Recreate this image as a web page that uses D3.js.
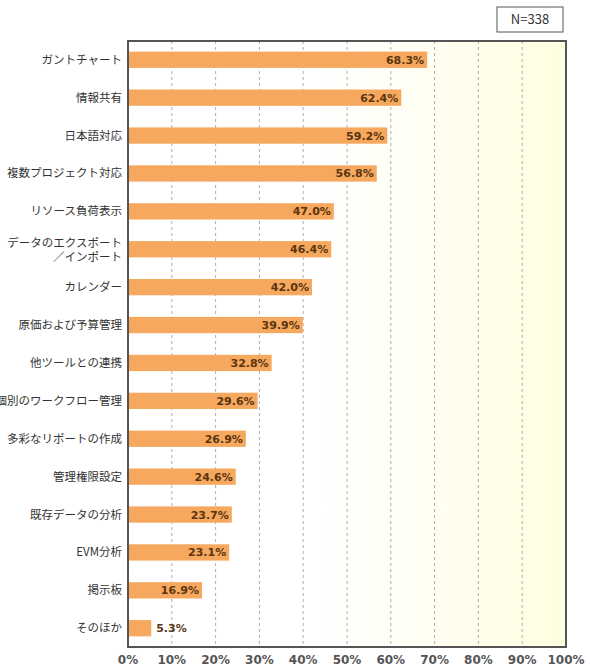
<!DOCTYPE html>
<html><head><meta charset="utf-8">
<script src="https://cdn.jsdelivr.net/npm/d3@7"></script>
<style>body{margin:0;background:#fff;font-family:"Noto Sans CJK JP",sans-serif;}</style>
</head><body><div id="chart"></div>
<script>
const categories = ["ガントチャート","情報共有","日本語対応","複数プロジェクト対応","リソース負荷表示",
  "データのエクスポート\n／インポート","カレンダー","原価および予算管理","他ツールとの連携","個別のワークフロー管理",
  "多彩なリポートの作成","管理権限設定","既存データの分析","EVM分析","掲示板","そのほか"];
const values = [68.3,62.4,59.2,56.8,47.0,46.4,42.0,39.9,32.8,29.6,26.9,24.6,23.7,23.1,16.9,5.3];
const ticks = [0,10,20,30,40,50,60,70,80,90,100];

const W = 590, H = 670;
const plotL = 128, plotR = 566, plotT = 41, plotB = 647;
const svg = d3.select("#chart").append("svg").attr("width", W).attr("height", H);

const grad = svg.append("defs").append("linearGradient").attr("id","bg");
grad.append("stop").attr("offset","0%").attr("stop-color","#ffffff");
grad.append("stop").attr("offset","45%").attr("stop-color","#ffffff");
grad.append("stop").attr("offset","100%").attr("stop-color","#fffde0");

const x = d3.scaleLinear().domain([0,100]).range([plotL,plotR]);
const y = d3.scaleBand().domain(categories).range([plotT,plotB]).paddingInner(0.57).paddingOuter(0.28);

svg.append("rect").attr("x",plotL).attr("y",plotT).attr("width",plotR-plotL).attr("height",plotB-plotT).attr("fill","url(#bg)");

// grid
svg.selectAll(".grid").data(ticks.slice(1,-1)).enter().append("line")
  .attr("x1",d=>x(d)).attr("x2",d=>x(d)).attr("y1",plotT).attr("y2",plotB)
  .attr("stroke","#999").attr("stroke-dasharray","3,3").attr("stroke-width",0.8);

svg.selectAll(".bar").data(values).enter().append("rect")
  .attr("x",plotL).attr("y",(d,i)=>y(categories[i])).attr("width",d=>x(d)-plotL).attr("height",y.bandwidth())
  .attr("fill","#f6a85e");

svg.selectAll(".val").data(values).enter().append("text")
  .attr("x",d=>d<10?x(d)+5:x(d)-3).attr("y",(d,i)=>y(categories[i])+y.bandwidth()/2+4)
  .attr("text-anchor",d=>d<10?"start":"end")
  .attr("font-size",11).attr("font-weight","bold").attr("font-family","Verdana, DejaVu Sans, sans-serif")
  .attr("fill","#5a3510").text(d=>d.toFixed(1)+"%");

// category labels
const lab = svg.selectAll(".cat").data(categories).enter().append("text")
  .attr("x",plotL-6).attr("text-anchor","end").attr("font-size",11.5).attr("fill","#333")
  .attr("y",d=>y(d)+y.bandwidth()/2+4);
lab.each(function(d){
  const lines = d.split("\n"), t = d3.select(this);
  lines.forEach((l,i)=>t.append("tspan").attr("x",plotL-6)
    .attr("dy", i===0 ? (lines.length>1?-6:0) : 14).text(l));
});

svg.append("rect").attr("x",plotL).attr("y",plotT).attr("width",plotR-plotL).attr("height",plotB-plotT)
  .attr("fill","none").attr("stroke","#555").attr("stroke-width",2);

svg.append("g").selectAll("text").data(ticks).enter().append("text")
  .attr("x",d=>x(d)).attr("y",664).attr("text-anchor","middle")
  .attr("font-size",12).attr("font-weight","bold").attr("font-family","Verdana, DejaVu Sans, sans-serif")
  .attr("fill","#555").text(d=>d+"%");

svg.append("rect").attr("x",497).attr("y",7).attr("width",66).attr("height",25)
  .attr("fill","#fff").attr("stroke","#555");
svg.append("text").attr("x",530).attr("y",24).attr("text-anchor","middle").attr("font-size",13)
  .attr("fill","#333").text("N=338");
</script></body></html>
